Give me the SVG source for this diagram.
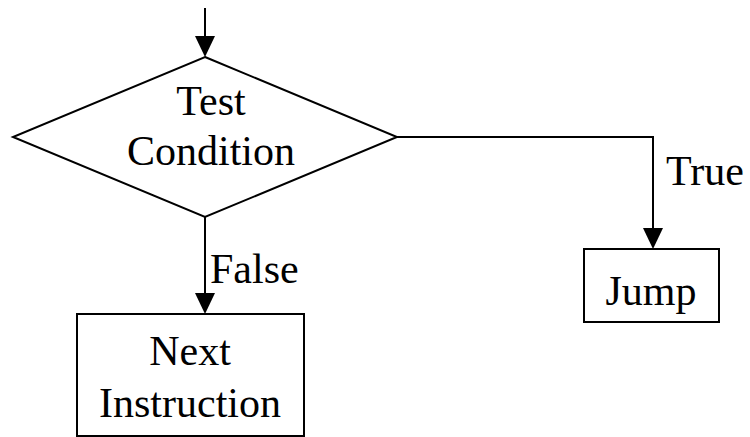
<svg xmlns="http://www.w3.org/2000/svg" width="750" height="437" viewBox="0 0 750 437">
<style>
.s{fill:#fff;stroke:#000;stroke-width:2}
.c{fill:none;stroke:#000;stroke-width:2}
.a{fill:#000}
text{font-family:"Liberation Serif","Times New Roman",serif;font-size:42px;fill:#000}
</style>
<rect width="750" height="437" fill="#fff"/>
<g id="connectors">
<path class="c" d="M205,8 V36"/>
<path class="a" d="M195,36 L215,36 L205,57 Z"/>
<path class="c" d="M397,137 H653 V228"/>
<path class="a" d="M643,228 L663,228 L653,249 Z"/>
<path class="c" d="M205,217 V293"/>
<path class="a" d="M195,293 L215,293 L205,314 Z"/>
<text x="666" y="185">True</text>
<text x="210" y="283">False</text>
</g>
<g id="test">
<polygon class="s" points="205,57 397,137 205,217 13,137"/>
<text x="211" y="115" text-anchor="middle">Test</text>
<text x="211" y="165" text-anchor="middle">Condition</text>
</g>
<g id="jump">
<rect class="s" x="584" y="249" width="135" height="73"/>
<text x="651" y="305" text-anchor="middle">Jump</text>
</g>
<g id="next">
<rect class="s" x="77" y="314" width="227" height="122"/>
<text x="190" y="365" text-anchor="middle">Next</text>
<text x="190" y="417" text-anchor="middle">Instruction</text>
</g>
</svg>
